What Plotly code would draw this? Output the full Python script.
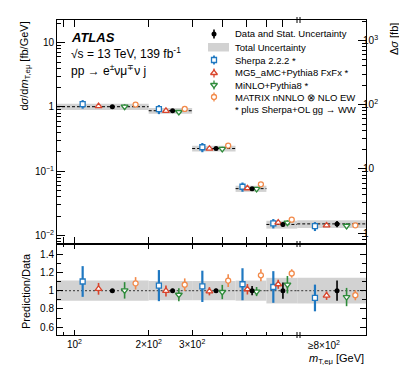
import math
import plotly.graph_objects as go

# ---------------- data ----------------
bin_lo = [85, 200, 300, 450, 600, 800]
bin_hi = [200, 300, 450, 600, 800, 1520]   # last bin (>=800) drawn up to axis end
data_xsec = [1.01, 0.875, 0.226, 0.0537, 0.0149, 0.0152]
data_stat_rel = [0.015, 0.02, 0.02, 0.05, 0.09, 0.11]
total_unc_rel = [0.11, 0.105, 0.105, 0.11, 0.14, 0.14]

sherpa_ratio = [1.10, 1.055, 1.047, 1.07, 1.04, 0.92]
sherpa_err = [0.168, 0.17, 0.171, 0.175, 0.173, 0.146]
mg5_ratio = [1.02, 0.997, 0.993, 1.015, 1.07, 0.945]
mg5_err = [0.064, 0.06, 0.045, 0.057, 0.05, 0.046]
minlo_ratio = [1.003, 0.955, 0.985, 0.99, 1.065, 0.93]
minlo_err = [0.09, 0.071, 0.078, 0.05, 0.095, 0.10]
matrix_ratio = [1.08, 1.065, 1.11, 1.168, 1.188, 0.95]
matrix_err = [0.068, 0.069, 0.069, 0.066, 0.046, 0.055]

x_major = [100, 200, 300]
x_major_text = ["10<sup>2</sup>", "2×10<sup>2</sup>", "3×10<sup>2</sup>"]
x_minor = [90, 400, 500, 600, 700]
y_main_ticks = [0.01, 0.1, 1, 10]
y_main_text = ["10<sup>−2</sup>", "10<sup>−1</sup>", "1", "10"]
y_right_ticks = [1, 10, 100, 1000]
y_right_text = ["1", "10", "10<sup>2</sup>", "10<sup>3</sup>"]
ratio_ticks = [0.6, 0.8, 1.0, 1.2, 1.4]
ratio_text = ["0.6", "0.8", "1", "1.2", "1.4"]
ratio_minor = [0.5, 0.7, 0.9, 1.1, 1.3, 1.5]

# ---------------- style ----------------
FONT = "Liberation Sans, Arial, Helvetica, sans-serif"
W, H = 407, 365
ML, MR, MT, MB = 49, 49, 12, 38
PW, PH = W - ML - MR, H - MT - MB
RATIO_TOP = 236
split = (MT + PH - RATIO_TOP) / PH

GRAY = "#d2d2d2"
models = [
    ("Sherpa 2.2.2 *", sherpa_ratio, sherpa_err, "#1f78c1", "square", 5, 2.2, -0.30),
    ("MG5_aMC+Pythia8 FxFx *", mg5_ratio, mg5_err, "#d9442b", "triangle-up", 6, 1.6, -0.15),
    ("MiNLO+Pythia8 *", minlo_ratio, minlo_err, "#2e8b3a", "triangle-down", 6, 1.6, 0.15),
    ("MATRIX nNNLO ⊗ NLO EW", matrix_ratio, matrix_err, "#f28a4a", "circle", 5, 1.6, 0.30),
]

def px_x(p):
    return (p - ML) / PW

def px_y(p):
    return (MT + PH - p) / PH

centers = [(lo + hi) / 2 for lo, hi in zip(bin_lo, bin_hi)]
widths = [hi - lo for lo, hi in zip(bin_lo, bin_hi)]

fig = go.Figure()

# total uncertainty bands + data reference lines
for i in range(len(bin_lo)):
    lo, hi, d, e = bin_lo[i], bin_hi[i], data_xsec[i], total_unc_rel[i]
    fig.add_trace(go.Scatter(x=[lo, hi, hi, lo, lo], y=[d * (1 - e), d * (1 - e), d * (1 + e), d * (1 + e), d * (1 - e)],
                             mode="lines", fill="toself", fillcolor=GRAY, line=dict(width=0),
                             xaxis="x", yaxis="y", hoverinfo="skip", showlegend=False))
    fig.add_trace(go.Scatter(x=[lo, hi, hi, lo, lo], y=[1 - e, 1 - e, 1 + e, 1 + e, 1 - e],
                             mode="lines", fill="toself", fillcolor=GRAY, line=dict(width=0),
                             xaxis="x2", yaxis="y2", hoverinfo="skip", showlegend=False))
    fig.add_trace(go.Scatter(x=[lo, hi], y=[d, d], mode="lines",
                             line=dict(color="black", width=1, dash="3px,2px"),
                             xaxis="x", yaxis="y", hoverinfo="skip", showlegend=False))
    fig.add_trace(go.Scatter(x=[lo, hi], y=[1, 1], mode="lines",
                             line=dict(color="#555555", width=1.3, dash="2px,2px"),
                             xaxis="x2", yaxis="y2", hoverinfo="skip", showlegend=False))

# predictions
for name, r, e, col, sym, size, thick, off in models:
    xs = [c + off * w for c, w in zip(centers, widths)]
    main_y = [d * ri for d, ri in zip(data_xsec, r)]
    main_e = [d * ei for d, ei in zip(data_xsec, e)]
    mk = dict(symbol=sym, size=size, color="white", line=dict(color=col, width=1.3))
    fig.add_trace(go.Scatter(x=xs, y=main_y, mode="markers", marker=mk,
                             error_y=dict(type="data", array=main_e, color=col, thickness=thick, width=0),
                             xaxis="x", yaxis="y", showlegend=False))
    fig.add_trace(go.Scatter(x=xs, y=r, mode="markers", marker=mk,
                             error_y=dict(type="data", array=e, color=col, thickness=thick, width=0),
                             xaxis="x2", yaxis="y2", showlegend=False))

# data
fig.add_trace(go.Scatter(x=centers, y=data_xsec, mode="markers",
                         marker=dict(symbol="circle", size=5, color="black"),
                         error_y=dict(type="data", array=[d * s for d, s in zip(data_xsec, data_stat_rel)],
                                      color="black", thickness=1.6, width=0),
                         xaxis="x", yaxis="y", showlegend=False))
fig.add_trace(go.Scatter(x=centers, y=[1] * len(centers), mode="markers",
                         marker=dict(symbol="circle", size=5, color="black"),
                         error_y=dict(type="data", array=data_stat_rel, color="black", thickness=1.6, width=0),
                         xaxis="x2", yaxis="y2", showlegend=False))

# empty trace so the right-hand Δσ axis is drawn
fig.add_trace(go.Scatter(x=[], y=[], mode="markers", xaxis="x", yaxis="y3",
                         showlegend=False, hoverinfo="skip"))

# ---------------- legend (manual) ----------------
leg_mx = px_x(206)
leg_tx = px_x(226)
rows = [26, 39, 52, 65, 77, 89, 101]
fig.add_trace(go.Scatter(x=[leg_mx], y=[px_y(rows[0])], mode="markers",
                         marker=dict(symbol="circle", size=5, color="black"),
                         error_y=dict(type="constant", value=0.014, color="black", thickness=1.6, width=0),
                         xaxis="x3", yaxis="y4", showlegend=False, hoverinfo="skip"))
for k, (name, r, e, col, sym, size, thick, off) in enumerate(models):
    fig.add_trace(go.Scatter(x=[leg_mx], y=[px_y(rows[2 + k])], mode="markers",
                             marker=dict(symbol=sym, size=size, color="white", line=dict(color=col, width=1.3)),
                             error_y=dict(type="constant", value=0.014, color=col, thickness=thick * 0.8, width=0),
                             xaxis="x3", yaxis="y4", showlegend=False, hoverinfo="skip"))

legend_text = ["Data and Stat. Uncertainty", "Total Uncertainty"] + [m[0] for m in models] + \
              ["* plus Sherpa+OL gg → WW"]
annotations = []
for t, ry in zip(legend_text, rows):
    annotations.append(dict(text=t, x=leg_tx, y=px_y(ry), xref="paper", yref="paper",
                            xanchor="left", yanchor="middle", showarrow=False, borderpad=0,
                            font=dict(size=9.5, color="black", family=FONT)))

shapes = [dict(type="rect", xref="paper", yref="paper", x0=px_x(200), x1=px_x(221),
               y0=px_y(43.5), y1=px_y(35), fillcolor=GRAY, line=dict(width=0))]

# break marks at the overflow bin
for bx in (289, 292):
    for by in (MT, RATIO_TOP, MT + PH):
        shapes.append(dict(type="line", xref="paper", yref="paper", x0=px_x(bx), x1=px_x(bx),
                           y0=px_y(by - 3), y1=px_y(by + 3), line=dict(color="black", width=1)))

# ATLAS labels
annotations += [
    dict(text="<b><i>ATLAS</i></b>", x=px_x(61), y=px_y(29), xref="paper", yref="paper",
         xanchor="left", yanchor="middle", showarrow=False, font=dict(size=13, family=FONT, color="black")),
    dict(text="√s = 13 TeV, 139 fb<sup>-1</sup>", x=px_x(61), y=px_y(45), xref="paper", yref="paper",
         xanchor="left", yanchor="middle", showarrow=False, font=dict(size=12, family=FONT, color="black")),
    dict(text="pp → e<sup>±</sup>νμ<sup>∓</sup>ν j", x=px_x(61), y=px_y(62), xref="paper", yref="paper",
         xanchor="left", yanchor="middle", showarrow=False, font=dict(size=12, family=FONT, color="black")),
    # axis titles
    dict(text="d<i>σ</i>/d<i>m</i><sub>T,eμ</sub> [fb/GeV]", x=px_x(16), y=px_y(12), xref="paper", yref="paper",
         xanchor="center", yanchor="top", textangle=-90, showarrow=False,
         font=dict(size=11, family=FONT, color="black")),
    dict(text="Δ<i>σ</i> [fb]", x=px_x(386), y=px_y(13), xref="paper", yref="paper",
         xanchor="center", yanchor="top", textangle=-90, showarrow=False,
         font=dict(size=11, family=FONT, color="black")),
    dict(text="Prediction/Data", x=px_x(18), y=px_y(283), xref="paper", yref="paper",
         xanchor="center", yanchor="middle", textangle=-90, showarrow=False,
         font=dict(size=11, family=FONT, color="black")),
    dict(text="<i>m</i><sub>T,eμ</sub> [GeV]", x=1.0, y=px_y(351), xref="paper", yref="paper",
         xanchor="right", yanchor="middle", showarrow=False,
         font=dict(size=11, family=FONT, color="black")),
    dict(text="≥8×10<sup>2</sup>", x=px_x(316), y=px_y(337), xref="paper", yref="paper",
         xanchor="center", yanchor="middle", showarrow=False,
         font=dict(size=10, family=FONT, color="black")),
]

def log_minor(lo_dec, hi_dec):
    out = []
    for d in range(lo_dec, hi_dec + 1):
        for m in range(2, 10):
            out.append(m * 10 ** d)
    return out

xr = [math.log10(85), math.log10(1520)]
common = dict(showgrid=False, zeroline=False, showline=True, linecolor="black", linewidth=1,
              ticks="inside", tickcolor="black", tickfont=dict(size=10, family=FONT, color="black"))

fig.update_layout(
    width=W, height=H, autosize=False,
    margin=dict(l=ML, r=MR, t=MT, b=MB, pad=0),
    paper_bgcolor="white", plot_bgcolor="rgba(0,0,0,0)",
    font=dict(family=FONT, color="black"),
    showlegend=False,
    xaxis=dict(type="log", range=xr, domain=[0, 1], anchor="y", mirror="allticks",
               tickmode="array", tickvals=x_major, showticklabels=False, ticklen=7,
               minor=dict(tickmode="array", tickvals=x_minor, ticklen=4, ticks="inside", tickcolor="black"),
               **common),
    xaxis2=dict(type="log", range=xr, domain=[0, 1], anchor="y2", matches="x", mirror="allticks",
                tickmode="array", tickvals=x_major, ticktext=x_major_text, ticklen=5,
                minor=dict(tickmode="array", tickvals=x_minor, ticklen=3, ticks="inside", tickcolor="black"),
                **common),
    yaxis=dict(type="log", range=[-2.131, 1.353], domain=[split, 1], anchor="x", mirror=True,
               tickmode="array", tickvals=y_main_ticks, ticktext=y_main_text, ticklen=8,
               minor=dict(tickmode="array", tickvals=log_minor(-3, 1), ticklen=4, ticks="inside", tickcolor="black"),
               **common),
    yaxis3=dict(type="log", range=[-0.167, 3.317], overlaying="y", side="right", anchor="x",
                tickmode="array", tickvals=y_right_ticks, ticktext=y_right_text, ticklen=8,
                ticklabelstandoff=-6,
                minor=dict(tickmode="array", tickvals=log_minor(-1, 3), ticklen=4, ticks="inside", tickcolor="black"),
                **common),
    yaxis2=dict(range=[0.515, 1.51], domain=[0, split], anchor="x2", mirror="allticks",
                tickmode="array", tickvals=ratio_ticks, ticktext=ratio_text, ticklen=6,
                minor=dict(tickmode="array", tickvals=ratio_minor, ticklen=4, ticks="inside", tickcolor="black"),
                **common),
    xaxis3=dict(range=[0, 1], domain=[0, 1], anchor="y4", visible=False, fixedrange=True),
    yaxis4=dict(range=[0, 1], domain=[0, 1], anchor="x3", visible=False, fixedrange=True),
    annotations=annotations,
    shapes=shapes,
)

fig.write_html("out.html")
